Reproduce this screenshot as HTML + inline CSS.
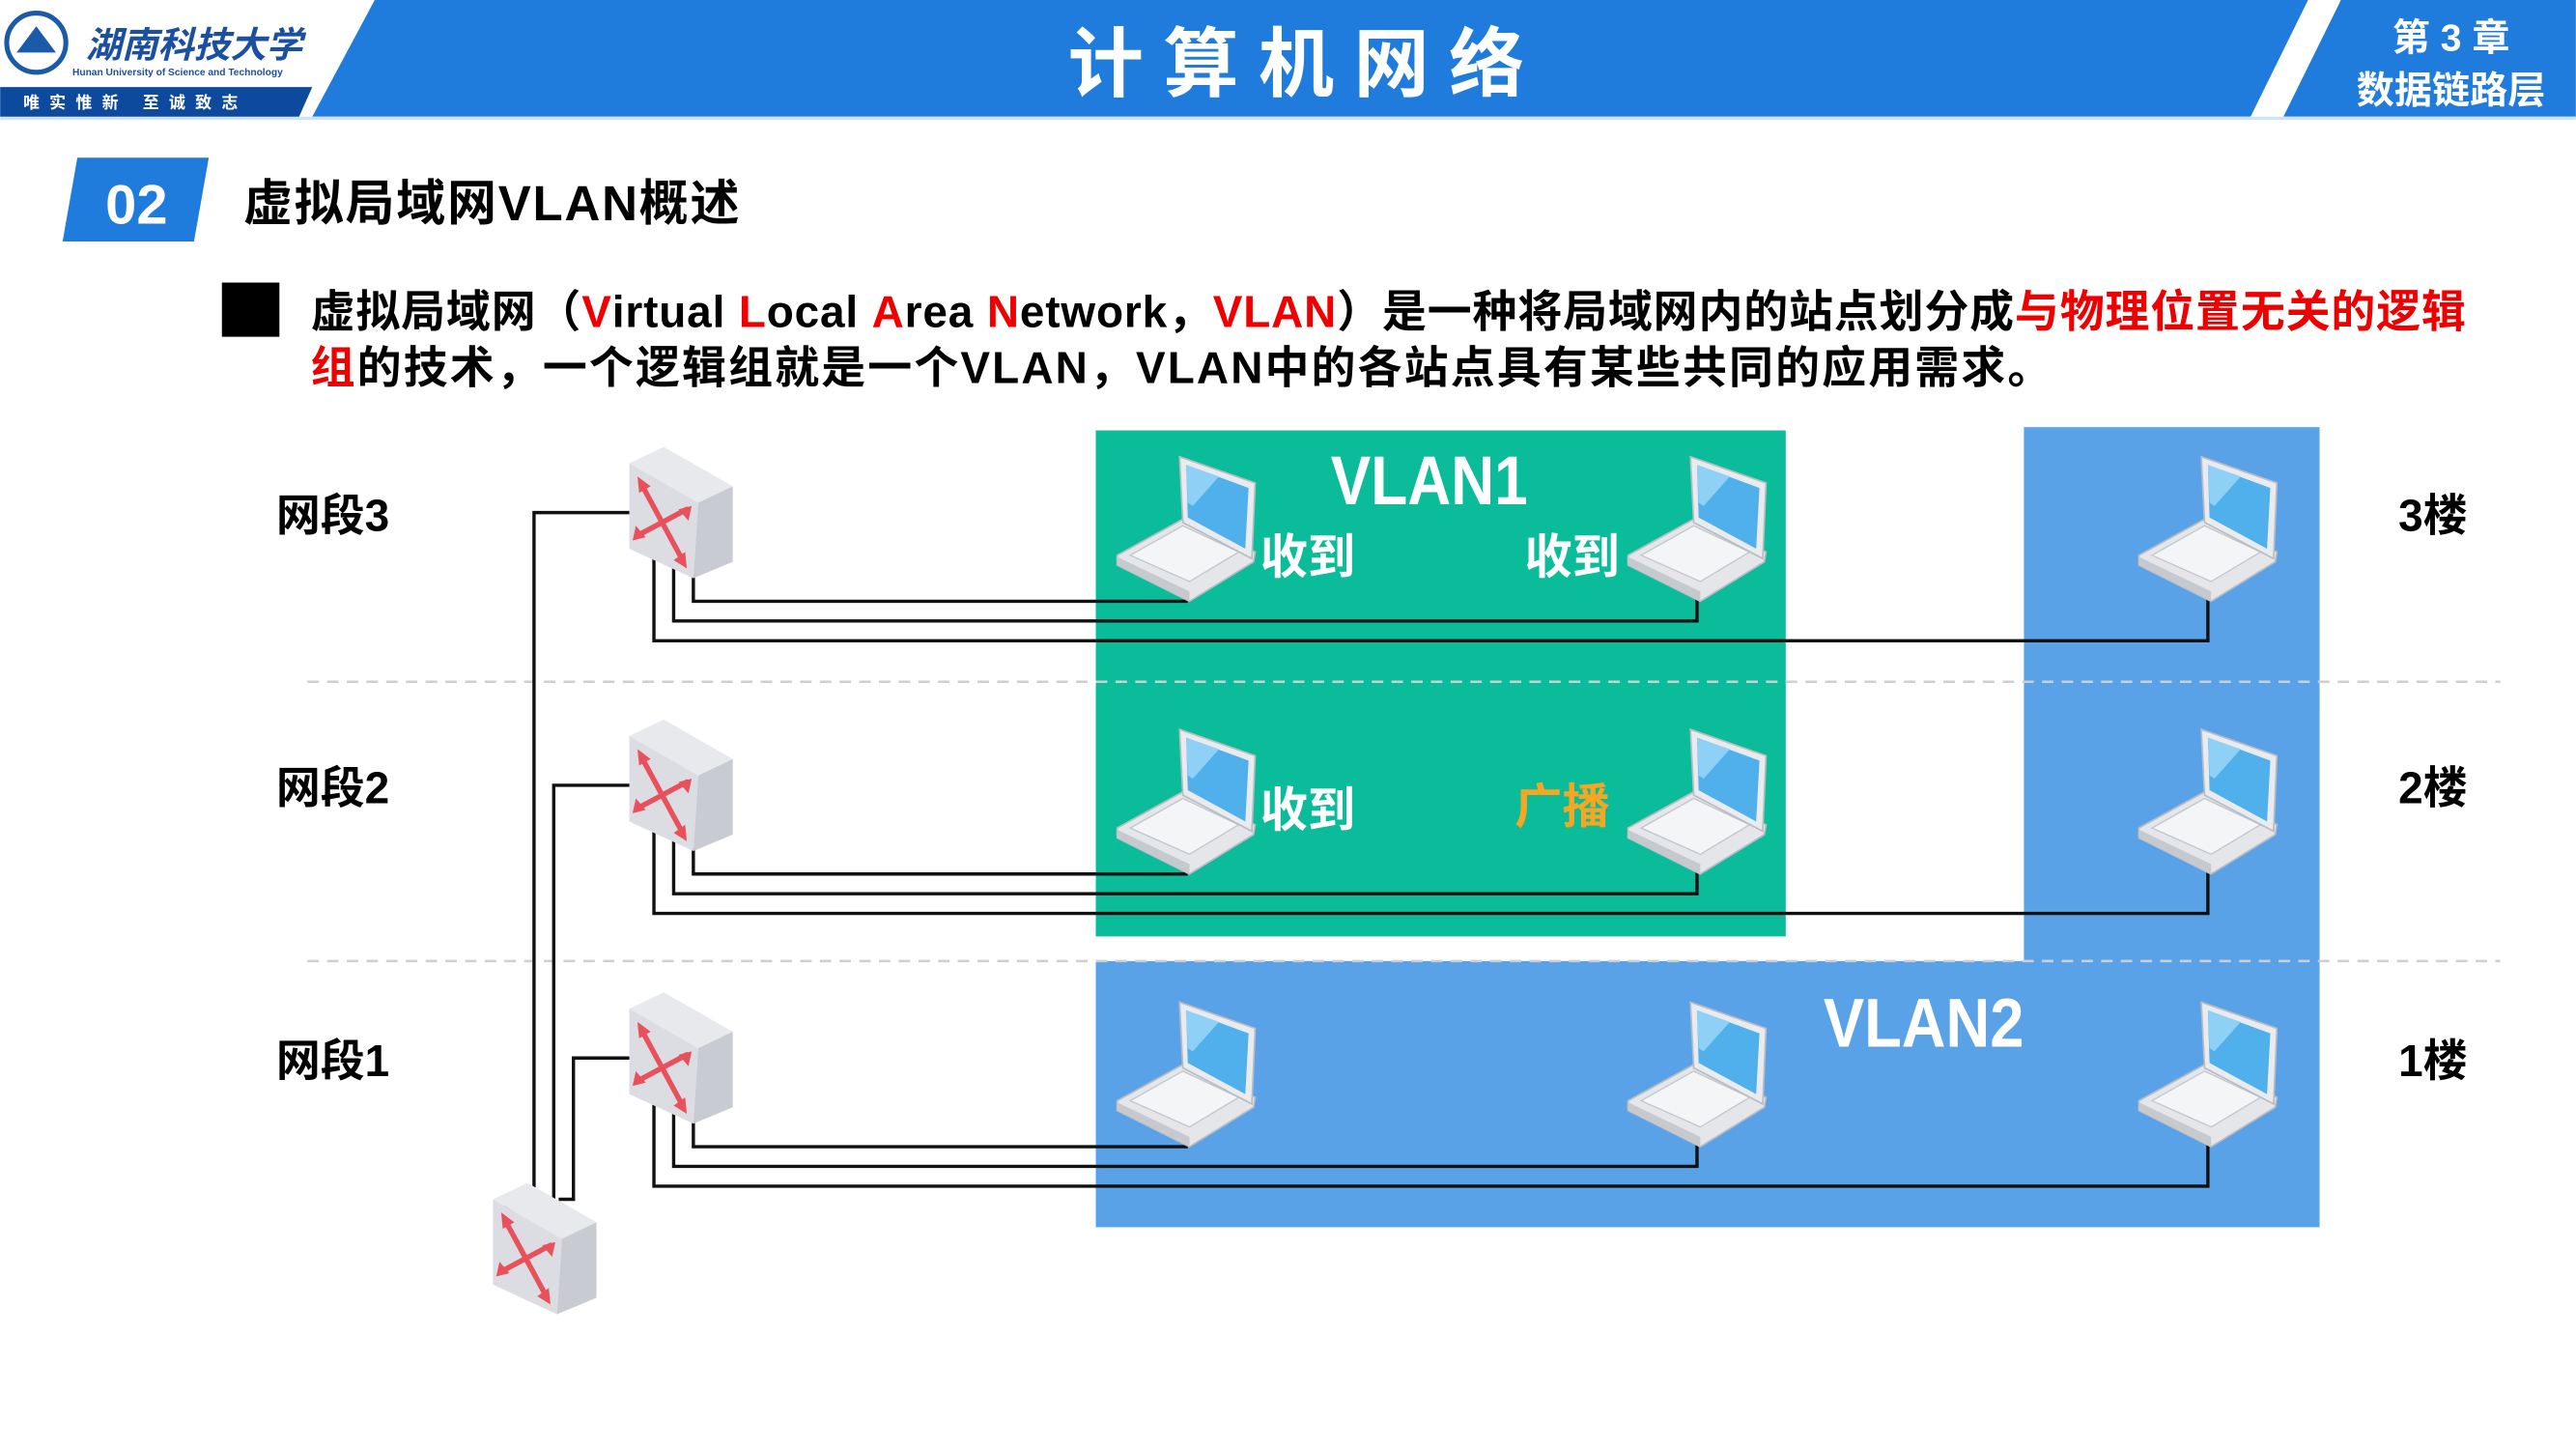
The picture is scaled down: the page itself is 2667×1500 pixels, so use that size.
<!DOCTYPE html>
<html><head><meta charset="utf-8"><style>
html,body{margin:0;padding:0;background:#fff;width:2667px;height:1500px;overflow:hidden}
svg{display:block}
text{font-family:"Liberation Sans","Noto Sans CJK SC",sans-serif;font-weight:bold}
</style></head><body>
<svg width="2667" height="1500" viewBox="0 0 1568 882" xmlns="http://www.w3.org/2000/svg">
<defs>
<g id="lap">
  <polygon points="0,60 40,38 84,58 83,64 44,88 0,66" fill="#e4e6ea" stroke="#b9bcc2" stroke-width="1"/>
  <polygon points="8,60 40,42 74,58 44,76" fill="#f4f5f7" stroke="#c3c6cc" stroke-width="0.8"/>
  <polygon points="38,0 84,16 82,62 40,40" fill="#e9ebee" stroke="#b9bcc2" stroke-width="1"/>
  <polygon points="42,5 80,19 78,56 43,37" fill="#4fb0ec"/>
  <polygon points="42,5 62,12 46,30 43,28" fill="#8fd0f6"/>
  <polygon points="0,66 44,88 44,82 0,61" fill="#c6c9ce"/>
</g>
<g id="sw">
  <polygon points="0,10 21,0 63,24 42,34" fill="#e8e9ec"/>
  <polygon points="0,10 42,34 39,80 0,62" fill="#dcdde2"/>
  <polygon points="42,34 63,24 63,70 39,80" fill="#c9cbd2"/>
  <g stroke="#e8505b" stroke-width="3.2" fill="none" stroke-linecap="round">
    <path d="M7,22 L33,70"/><path d="M5,54 L35,38"/>
  </g>
  <g fill="#e8505b">
    <polygon points="5,18 13,24 6,28"/><polygon points="35,74 27,69 34,64"/>
    <polygon points="2,57 4,48 10,55"/><polygon points="38,36 36,45 30,38"/>
  </g>
</g>
</defs>

<polygon points="228,0 1405,0 1370,71 190,71" fill="#1f7bdc"/>
<polygon points="1425,0 1568,0 1568,71 1390,71" fill="#1f7bdc"/>
<rect x="0" y="71" width="1568" height="2" fill="#cfe3f7"/>
<polygon points="0,53 190,53 182,71 0,71" fill="#0d4a9e"/>
<circle cx="22" cy="26" r="18" fill="#fff" stroke="#1b5aa8" stroke-width="3"/>
<polygon points="10,32 22,16 34,32" fill="#1b5aa8"/>
<text x="52" y="35" font-size="22" fill="#1b4fa0" font-style="italic">湖南科技大学</text>
<text x="44" y="46" font-size="6" fill="#1b4fa0" font-weight="normal">Hunan University of Science and Technology</text>
<text x="14" y="66" font-size="10" fill="#fff" font-weight="normal" letter-spacing="6">唯实惟新 至诚致志</text>
<text x="795" y="55" font-size="46" fill="#fff" text-anchor="middle" letter-spacing="12">计算机网络</text>
<text x="1492" y="31" font-size="23" fill="#fff" text-anchor="middle">第 3 章</text>
<text x="1492" y="63" font-size="23" fill="#fff" text-anchor="middle">数据链路层</text>

<polygon points="47,96 127,96 118,147 38,147" fill="#1f7bdc"/>
<text x="83" y="136" font-size="34" fill="#fff" text-anchor="middle">02</text>
<text x="148" y="134" font-size="30" fill="#000" textLength="302">虚拟局域网VLAN概述</text>

<rect x="135" y="172" width="35" height="33" fill="#000"/>
<text x="189" y="199" font-size="27" fill="#000" textLength="1312">虚拟局域网（<tspan fill="#e00">V</tspan>irtual <tspan fill="#e00">L</tspan>ocal <tspan fill="#e00">A</tspan>rea <tspan fill="#e00">N</tspan>etwork，<tspan fill="#e00">VLAN</tspan>）是一种将局域网内的站点划分成<tspan fill="#e00">与物理位置无关的逻辑</tspan></text>
<text x="189" y="233" font-size="27" fill="#000" textLength="1060"><tspan fill="#e00">组</tspan>的技术，一个逻辑组就是一个VLAN，VLAN中的各站点具有某些共同的应用需求。</text>

<rect x="1232" y="260" width="180" height="326" fill="#5aa2e8"/>
<rect x="667" y="585" width="745" height="162" fill="#5aa2e8"/>
<rect x="667" y="262" width="420" height="308" fill="#0bbc9a"/>
<line x1="187" y1="415" x2="1522" y2="415" stroke="#cfcfcf" stroke-width="1.5" stroke-dasharray="7,5"/>
<line x1="187" y1="585" x2="1522" y2="585" stroke="#cfcfcf" stroke-width="1.5" stroke-dasharray="7,5"/>

<g font-size="27" fill="#000">
<text x="168" y="323">网段3</text><text x="168" y="489">网段2</text><text x="168" y="655">网段1</text>
<text x="1460" y="323">3楼</text><text x="1460" y="489">2楼</text><text x="1460" y="655">1楼</text>
</g>
<text x="810" y="307" font-size="42" fill="#fff" textLength="120" lengthAdjust="spacingAndGlyphs">VLAN1</text>
<text x="1110" y="637" font-size="42" fill="#fff" textLength="122" lengthAdjust="spacingAndGlyphs">VLAN2</text>
<g font-size="29" fill="#fff">
<text x="767" y="349">收到</text><text x="928" y="349">收到</text><text x="767" y="503">收到</text>
</g>
<text x="922" y="501" font-size="29" fill="#f5a623">广播</text>

<g fill="none" stroke="#111" stroke-width="2">
  <polyline points="384,312 325,312 325,735 302,735"/>
  <polyline points="384,478 337,478 337,735 322,735"/>
  <polyline points="384,644 349,644 349,730 340,730"/>
  <g id="row">
    <polyline points="422,350 422,366 722,366 722,352"/>
    <polyline points="410,345 410,378 1033,378 1033,352"/>
    <polyline points="398,340 398,390 1344,390 1344,352"/>
  </g>
  <use href="#row" y="166"/>
  <use href="#row" y="332"/>
</g>

<use href="#sw" x="383" y="272"/>
<use href="#sw" x="383" y="438"/>
<use href="#sw" x="383" y="604"/>
<use href="#sw" x="300" y="720"/>
<use href="#lap" x="680" y="278"/><use href="#lap" x="991" y="278"/><use href="#lap" x="1302" y="278"/>
<use href="#lap" x="680" y="444"/><use href="#lap" x="991" y="444"/><use href="#lap" x="1302" y="444"/>
<use href="#lap" x="680" y="610"/><use href="#lap" x="991" y="610"/><use href="#lap" x="1302" y="610"/>
</svg>
</body></html>
